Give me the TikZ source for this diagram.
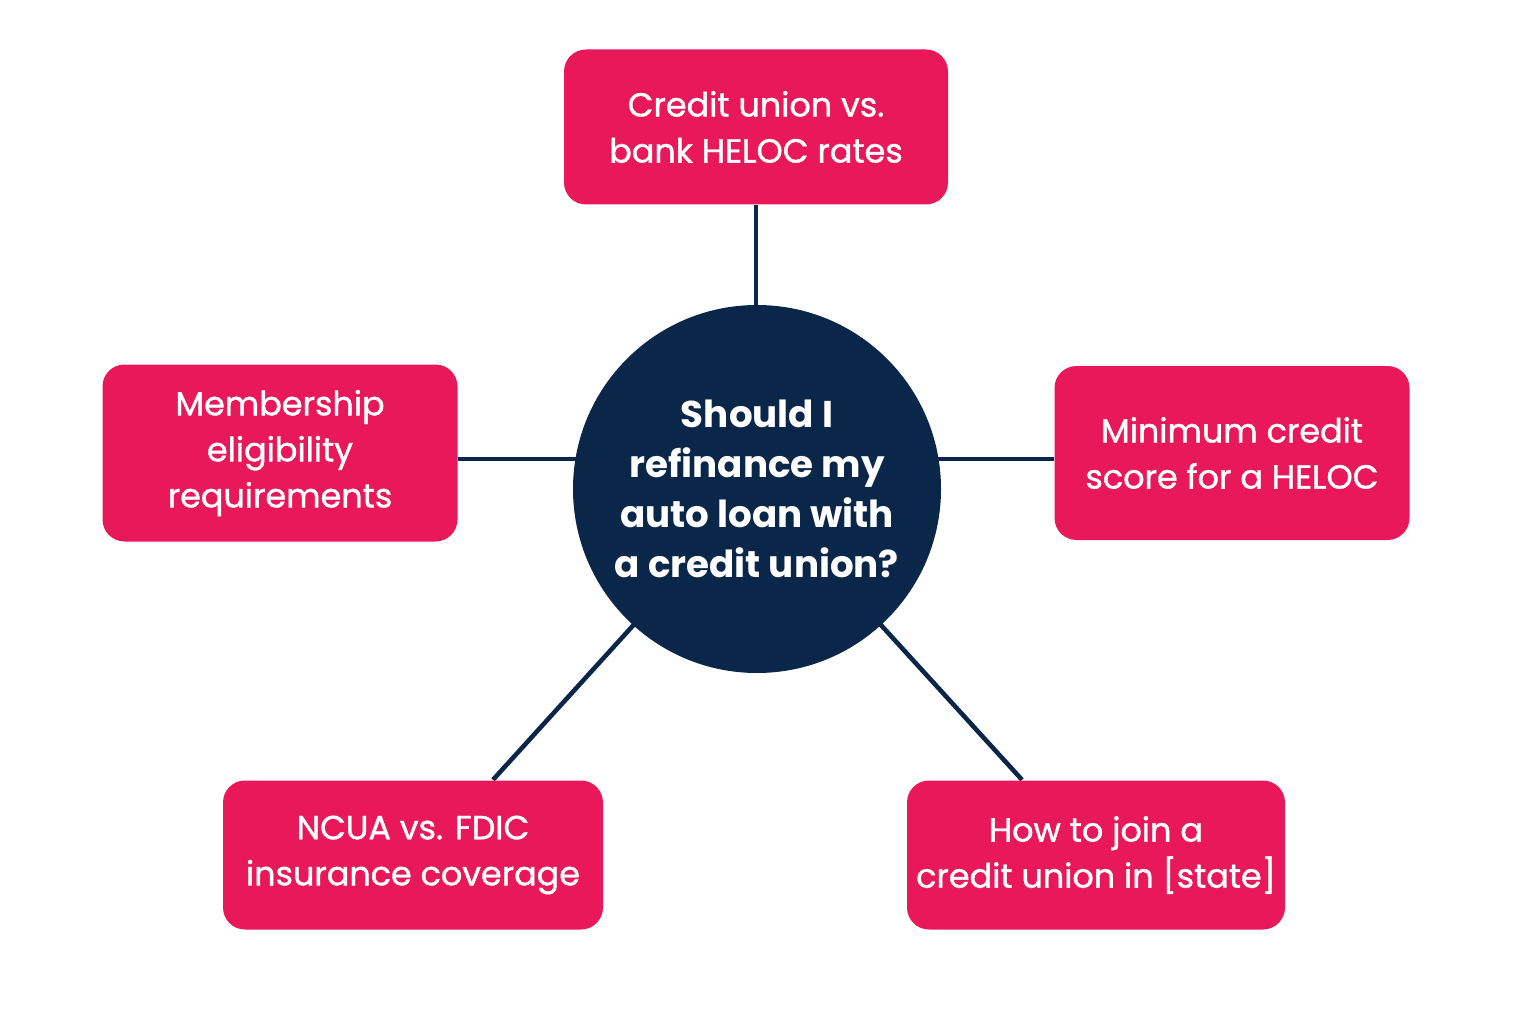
\documentclass[tikz,border=0pt]{standalone}
\usepackage{fontspec}
\setmainfont{Poppins}
\newfontfamily\topicfont{Poppins}[BoldFont=Poppins, BoldFeatures={FakeBold=1.2}]
\usetikzlibrary{backgrounds,calc}
\definecolor{topicpink}{HTML}{E8185A}
\definecolor{hubnavy}{HTML}{0A2649}
\tikzset{
	topic/.style={fill=topicpink, rounded corners=0.22cm, text=white, align=center,
		inner sep=1pt, font=\topicfont\bfseries\fontsize{9.5}{13.1}\selectfont},
	link/.style={draw=hubnavy, line width=1.3pt}
}
\begin{document}
\begin{tikzpicture}
	\useasboundingbox (0,0) rectangle (15.36,10.24);
	% Hub
	\node[circle, fill=hubnavy, minimum size=3.68cm, inner sep=0pt, text=white, align=center,
		font=\fontsize{10.6}{14.2}\selectfont\bfseries] (hub) at (7.57,5.35)
		{Should I\\refinance my\\auto loan with\\a credit union?};

	% Topics
	\node[topic, minimum width=3.84cm, minimum height=1.55cm] (rates) at (7.56,8.97)
		{Credit union vs.\\bank HELOC rates};
	\node[topic, minimum width=3.55cm, minimum height=1.77cm] (member) at (2.80,5.71)
		{Membership\\eligibility\\requirements};
	\node[topic, minimum width=3.55cm, minimum height=1.74cm] (score) at (12.32,5.71)
		{Minimum credit\\score for a HELOC};
	\node[topic, minimum width=3.80cm, minimum height=1.49cm] (insure) at (4.13,1.69)
		{NCUA vs. FDIC\\insurance coverage};
	\node[topic, minimum width=3.78cm, minimum height=1.49cm] (join) at (10.96,1.69)
		{How to join a\\credit union in [state]};

	% Links
	\begin{scope}[on background layer]
		\coordinate (insure top) at ($(insure.north)+(0.80,0)$);
		\coordinate (join top) at ($(join.north)+(-0.74,0)$);
		\draw[link] (rates.south) -- (rates.south |- hub.center);
		\draw[link] ($(member.east)+(0,-0.06)$) -- ($(hub.center)+(0,0.30)$);
		\draw[link] ($(score.west)+(0,-0.06)$) -- ($(hub.center)+(0,0.30)$);
		\draw[link] (insure top) -- (hub.center);
		\draw[link] (join top) -- (hub.center);
	\end{scope}
\end{tikzpicture}
\end{document}
